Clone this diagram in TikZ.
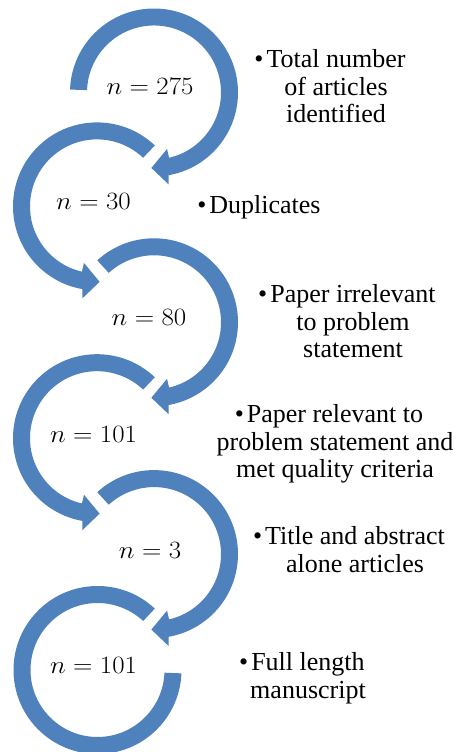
\documentclass[tikz,border=0pt]{standalone}
\usepackage[no-math]{fontspec}
\setmainfont{Liberation Serif}
\newfontfamily\tnr{Liberation Serif}
\definecolor{ringblue}{HTML}{4F81BD}
\tikzset{
  ring/.style={fill=ringblue, draw=none},
  lbl/.style={inner sep=0pt, anchor=base, font=\tnr\fontsize{26}{27.3}\selectfont},
  num/.style={inner sep=0pt, anchor=base, font=\fontsize{24.88}{30}\selectfont}
}
\newcommand\bul{\llap{\textbullet\hspace{3pt}}}
\newcommand\nval[1]{\scalebox{1.08}[1.0]{$n = #1$}}
% left-type ring: starts upper right, runs counter-clockwise, head at bottom
\newcommand\leftring[2]{%
  \path[ring, shift={(#1,#2)}] (46.5:84) arc[start angle=46.5, end angle=260, radius=84]
    -- (261:93) -- (272:75.5) -- (257:58) -- (257:67)
    arc[start angle=257, end angle=46.5, radius=67] -- cycle;}
% right-type ring: starts on the left, runs clockwise, head at bottom
\newcommand\rightring[3]{%
  \path[ring, shift={(#1,#2)}] (#3:84) arc[start angle=#3, end angle=-80, radius=84]
    -- (-81:93) -- (-92:75.5) -- (-77:58) -- (-77:67)
    arc[start angle=-77, end angle=#3, radius=67] -- cycle;}
\begin{document}
\begin{tikzpicture}[x=1pt,y=1pt]
\useasboundingbox (0,0) rectangle (458,752);
\rightring{154}{659.5}{178}
\leftring{97}{545.6}
\rightring{154}{429.7}{132.5}
\leftring{97}{313.8}
\rightring{154}{197.9}{132.5}
\path[ring, shift={(97.5,82)}] (47:84) arc[start angle=47, end angle=357.7, radius=84]
  -- (357.7:67) arc[start angle=357.7, end angle=47, radius=67] -- cycle;

\node[num] (m1) at (150,657.7) {\nval{275}};
\node[num] (m2) at (93.5,542) {\nval{30}};
\node[num] (m3) at (149,426) {\nval{80}};
\node[num] (m4) at (93.5,309.3) {\nval{101}};
\node[num] (m5) at (150,193.7) {\nval{3}};
\node[num] (m6) at (93.5,78) {\nval{101}};

\node[lbl] (t1) at (336,684) {\begin{tabular}[t]{@{}c@{}}\bul Total number\\of articles\\identified\end{tabular}};
\node[lbl] (t2) at (265,538) {\begin{tabular}[t]{@{}c@{}}\bul Duplicates\end{tabular}};
\node[lbl] (t3) at (353,449) {\begin{tabular}[t]{@{}c@{}}\bul Paper irrelevant\\to problem\\statement\end{tabular}};
\node[lbl] (t4) at (335,329) {\begin{tabular}[t]{@{}c@{}}\bul Paper relevant to\\problem statement and\\met quality criteria\end{tabular}};
\node[lbl] (t5) at (355,207) {\begin{tabular}[t]{@{}c@{}}\bul Title and abstract\\alone articles\end{tabular}};
\node[lbl] (t6) at (308,81) {\begin{tabular}[t]{@{}c@{}}\bul Full length\\manuscript\end{tabular}};
\end{tikzpicture}
\end{document}
